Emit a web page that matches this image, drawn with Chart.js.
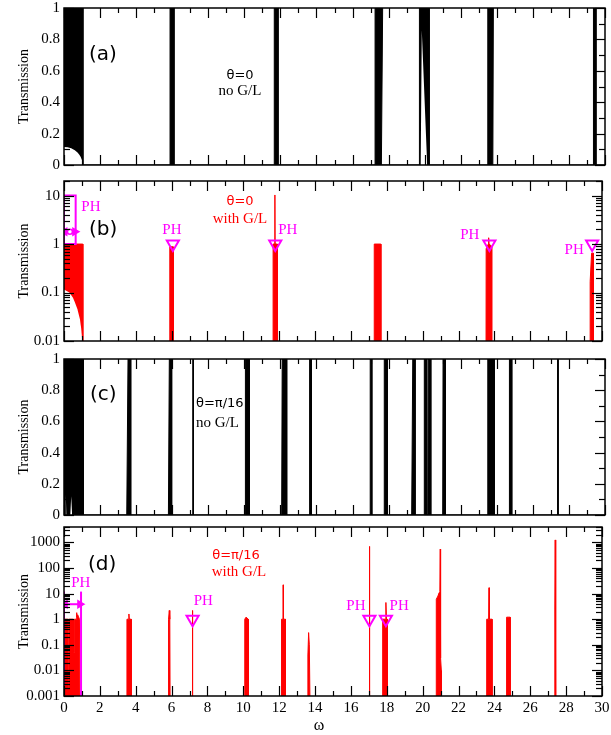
<!DOCTYPE html>
<html>
<head>
<meta charset="utf-8">
<title>Transmission vs omega</title>
<script src="https://cdn.jsdelivr.net/npm/chart.js@4.4.1/dist/chart.umd.min.js"></script>
<style>
  html, body { margin: 0; padding: 0; background: #fff; }
  #page { position: relative; width: 611px; height: 735px; overflow: hidden; }
  #page canvas { position: absolute; left: 0; }
  .txt { position: absolute; white-space: nowrap; line-height: 1; color: #000; }
  .sans { font-family: "DejaVu Sans", sans-serif; }
  .serif { font-family: "Liberation Serif", serif; }
  .red { color: #f00; }
  .c { transform: translate(-50%, -50%); }
  .l { transform: translateY(-50%); }
</style>
</head>
<body>
<div id="page">
  <canvas id="chartA" width="611" height="175" style="top:0px"></canvas>
  <canvas id="chartB" width="611" height="178" style="top:172px"></canvas>
  <canvas id="chartC" width="611" height="175" style="top:350px"></canvas>
  <canvas id="chartD" width="611" height="217" style="top:518px"></canvas>

  <div class="txt sans l" style="left:89px;top:53px;font-size:20px">(a)</div>
  <div class="txt sans c" style="left:240px;top:74px;font-size:13px">θ=0</div>
  <div class="txt serif c" style="left:240px;top:90px;font-size:15px">no G/L</div>

  <div class="txt sans l" style="left:89px;top:228px;font-size:20px">(b)</div>
  <div class="txt sans c red" style="left:240px;top:200px;font-size:13px">θ=0</div>
  <div class="txt serif c red" style="left:240px;top:218px;font-size:15px">with G/L</div>

  <div class="txt sans l" style="left:90px;top:393px;font-size:20px">(c)</div>
  <div class="txt sans l" style="left:196px;top:402px;font-size:13px">θ=π/16</div>
  <div class="txt serif l" style="left:196px;top:422px;font-size:15px">no G/L</div>

  <div class="txt sans l" style="left:88px;top:563px;font-size:20px">(d)</div>
  <div class="txt sans c red" style="left:236px;top:554px;font-size:13px">θ=π/16</div>
  <div class="txt serif c red" style="left:239px;top:571px;font-size:15px">with G/L</div>

  <div class="txt serif c" style="left:319px;top:725px;font-size:16px">ω</div>
</div>

<script>
// tick labels
const xTicks = [0, 2, 4, 6, 8, 10, 12, 14, 16, 18, 20, 22, 24, 26, 28, 30];
const linTicks = [0, 0.2, 0.4, 0.6, 0.8, 1];
const logTicksB = [0.01, 0.1, 1, 10];
const logTicksD = [0.001, 0.01, 0.1, 1, 10, 100, 1000];

// (a) theta=0, no G/L  -- [omega, T]
const traceA = [
  [0, 1], [1.05, 1], [1.05, 0],
  [5.88, 0], [5.88, 1], [6.1, 1], [6.1, 0],
  [11.66, 0], [11.66, 1], [11.87, 1], [11.87, 0],
  [17.25, 0], [17.25, 1], [17.67, 1], [17.6, 0],
  [19.71, 0], [19.71, 1], [20.25, 1], [20.25, 0],
  [23.5, 0], [23.5, 1], [23.81, 1], [23.78, 0],
  [29.36, 0], [29.36, 1], [29.5, 1], [29.5, 0],
  [30, 0]
];
const holeA = [
  [0, 0.115], [0.2, 0.113], [0.4, 0.106], [0.6, 0.094], [0.75, 0.079],
  [0.85, 0.065], [0.92, 0.052], [0.97, 0.039], [1.0, 0.028], [1.02, 0],
  [19.78, 0], [19.84, 0.86], [20.14, 0]
];

// (b) theta=0, with G/L  (values far below 0.01 sit under the axis)
const traceB = [
  [0, 1], [1.05, 1], [1.05, 0.001],
  [5.88, 0.001], [5.9, 0.88], [6.08, 0.88], [6.1, 0.001],
  [11.66, 0.001], [11.66, 1], [11.75, 1], [11.76, 10.3], [11.77, 1], [11.9, 1], [11.9, 0.001],
  [17.3, 0.001], [17.3, 1], [17.67, 1], [17.67, 0.001],
  [23.53, 0.001], [23.54, 0.8], [23.66, 1], [23.68, 1.35], [23.7, 1], [23.85, 0.9], [23.85, 0.001],
  [29.34, 0.001], [29.34, 0.17], [29.42, 0.65], [29.52, 0.65], [29.52, 0.001],
  [30, 0.001]
];
const holeB = [
  [0, 0.115], [0.3, 0.1], [0.5, 0.078], [0.61, 0.062], [0.75, 0.045],
  [0.89, 0.028], [0.96, 0.018], [1.02, 0.01]
];
const bracketB = [[0, 1], [0, 10], [0.65, 10], [0.65, 1], [0, 1]];
const arrowB = [[0.04, 1.8], [0.33, 1.8], [0.61, 1.8]];
const phMarkB = [[6.07, 1], [11.78, 1], [23.72, 1], [29.45, 1]];
const phTextB = [[6.02, 1.95], [12.48, 1.95], [22.63, 1.53], [28.45, 0.75], [1.5, 5.7]];

// (c) theta=pi/16, no G/L
const traceC = [
  [0, 1], [1.08, 1], [1.08, 0],
  [3.48, 0], [3.55, 1], [3.7, 1], [3.7, 0],
  [5.79, 0], [5.84, 1], [5.97, 1], [5.97, 0],
  [7.14, 0], [7.14, 1], [7.18, 1], [7.18, 0],
  [10.04, 0], [10.06, 1], [10.28, 1], [10.28, 0],
  [12.07, 0], [12.1, 1], [12.35, 1], [12.35, 0],
  [13.6, 0], [13.62, 1], [13.72, 1], [13.72, 0],
  [16.97, 0], [16.98, 1], [17.07, 1], [17.07, 0],
  [17.75, 0], [17.76, 1], [17.93, 1], [17.93, 0],
  [19.28, 0], [19.34, 1], [19.47, 1], [19.47, 0],
  [19.98, 0], [19.98, 1], [20.1, 1], [20.12, 0],
  [20.18, 0], [20.2, 1], [20.34, 1], [20.34, 0],
  [21.0, 0], [21.02, 1], [21.15, 1], [21.15, 0],
  [23.5, 0], [23.5, 1], [23.86, 1], [23.86, 0],
  [24.68, 0], [24.7, 1], [24.83, 1], [24.83, 0],
  [27.37, 0], [27.37, 1], [27.4, 1], [27.4, 0],
  [30, 0]
];
const holeC = [[0.06, 0], [0.1, 0.13], [0.13, 0], [0.35, 0], [0.4, 0.12], [0.45, 0]];

// (d) theta=pi/16, with G/L
const traceD = [
  [0, 0.0001], [0, 1], [0.22, 1], [0.23, 0.002], [0.26, 0.002], [0.27, 1],
  [0.52, 1], [0.53, 0.05], [0.57, 0.05], [0.58, 1], [0.68, 1], [0.7, 1.8], [0.72, 1.2],
  [0.76, 1.5], [0.8, 1.3], [0.86, 1], [0.9, 0.0001],
  [3.51, 0.0001], [3.51, 1], [3.6, 1], [3.62, 1.6], [3.64, 1], [3.75, 1], [3.75, 0.0001],
  [5.82, 0.0001], [5.83, 1], [5.87, 2.2], [5.9, 1], [5.92, 0.0001],
  [7.15, 0.0001], [7.16, 2.2], [7.18, 0.0001],
  [10.08, 0.0001], [10.08, 1], [10.15, 1.2], [10.28, 1], [10.28, 0.0001],
  [12.13, 0.0001], [12.13, 1], [12.21, 1], [12.22, 22], [12.24, 1], [12.35, 1], [12.35, 0.0001],
  [13.6, 0.0001], [13.6, 0.04], [13.64, 0.3], [13.68, 0.1], [13.73, 0.0001],
  [17.01, 0.0001], [17.03, 700], [17.05, 0.0001],
  [17.77, 0.0001], [17.77, 1], [17.92, 1], [17.95, 4.5], [17.98, 1], [18.03, 1], [18.03, 0.0001],
  [20.76, 0.0001], [20.76, 6], [20.85, 8], [20.92, 11], [20.96, 12], [20.98, 550], [21.0, 0.03], [21.04, 0.01], [21.04, 0.0001],
  [23.57, 0.0001], [23.57, 1], [23.68, 1], [23.7, 17], [23.72, 1], [23.87, 1], [23.87, 0.0001],
  [24.68, 0.0001], [24.68, 1.2], [24.88, 1.2], [24.88, 0.0001],
  [27.36, 0.0001], [27.37, 2.5], [27.39, 1250], [27.42, 0.0001],
  [30, 0.0001]
];
const bracketD0 = [[0, 0.001], [0, 12]];
const bracketD1 = [[0.95, 0.001], [0.95, 12]];
const arrowD = [[0.06, 3.85], [0.89, 3.85]];
const phMarkD = [[7.17, 1], [17.03, 1], [17.95, 1]];
const phTextD = [[7.77, 4.9], [16.28, 3.3], [18.69, 3.3], [0.94, 26]];

const MAGENTA = '#ff00ff';
const serif = 'Liberation Serif';

const toPts = arr => arr.map(p => ({ x: p[0], y: p[1] }));

// frame with inward ticks on all four sides, like the original plot
const framePlugin = {
  id: 'frame',
  afterDatasetsDraw(chart) {
    const { ctx, chartArea: a, scales: { x, y } } = chart;
    const line = (x1, y1, x2, y2) => {
      ctx.beginPath();
      ctx.moveTo(x1, y1);
      ctx.lineTo(x2, y2);
      ctx.stroke();
    };
    ctx.save();
    ctx.strokeStyle = '#000';
    ctx.lineWidth = 1.2;

    // x ticks: major every 2, minor every 1
    for (let v = 0; v <= 30; v++) {
      const px = Math.round(x.getPixelForValue(v)) + 0.5;
      const len = v % 2 === 0 ? 10 : 5;
      line(px, a.bottom, px, a.bottom - len);
      line(px, a.top, px, a.top + len);
    }

    // y ticks
    let major = [], minor = [];
    if (y.type === 'logarithmic') {
      let d = Math.pow(10, Math.floor(Math.log10(y.min)));
      while (d <= y.max) {
        if (d >= y.min) major.push(d);
        for (let k = 2; k <= 9; k++) {
          const v = d * k;
          if (v >= y.min && v <= y.max) minor.push(v);
        }
        d *= 10;
      }
    } else {
      for (let i = 0; i <= 10; i++) {
        (i % 2 === 0 ? major : minor).push(i / 10);
      }
    }
    major.forEach(v => {
      const py = Math.round(y.getPixelForValue(v)) + 0.5;
      line(a.left, py, a.left + 10, py);
      line(a.right, py, a.right - 10, py);
    });
    minor.forEach(v => {
      const py = Math.round(y.getPixelForValue(v)) + 0.5;
      line(a.left, py, a.left + 6, py);
      line(a.right, py, a.right - 6, py);
    });

    ctx.lineWidth = 1.5;
    ctx.strokeRect(a.left, a.top, a.right - a.left, a.bottom - a.top);
    ctx.restore();
  }
};

// "PH" labels placed in data coordinates
const phPlugin = {
  id: 'phText',
  afterDatasetsDraw(chart, args, opts) {
    if (!opts.items || !opts.items.length) return;
    const { ctx, scales: { x, y } } = chart;
    ctx.save();
    ctx.font = '15px "' + serif + '"';
    ctx.fillStyle = MAGENTA;
    ctx.textAlign = 'center';
    ctx.textBaseline = 'middle';
    opts.items.forEach(p => {
      ctx.fillText('PH', x.getPixelForValue(p[0]), y.getPixelForValue(p[1]));
    });
    ctx.restore();
  }
};

Chart.register(framePlugin, phPlugin);

function traceSet(data, color, order) {
  return {
    data: toPts(data), borderColor: color, backgroundColor: color,
    borderWidth: 1, fill: 'start', pointRadius: 0, order: order
  };
}
function holeSet(data) {
  return {
    data: toPts(data), borderColor: '#fff', backgroundColor: '#fff',
    borderWidth: 0, fill: 'start', pointRadius: 0, order: 2
  };
}
function lineSet(data) {
  return {
    data: toPts(data), borderColor: MAGENTA, borderWidth: 2,
    fill: false, pointRadius: 0, order: 1
  };
}
function arrowSet(data) {
  const n = data.length;
  const isEnd = i => i === 0 || i === n - 1;
  return {
    data: toPts(data), borderColor: MAGENTA, borderWidth: 2, fill: false, order: 1,
    pointStyle: data.map((p, i) => isEnd(i) ? 'triangle' : 'circle'),
    pointRotation: data.map((p, i) => i === 0 ? -90 : (i === n - 1 ? 90 : 0)),
    pointRadius: data.map((p, i) => isEnd(i) ? 4 : 2.5),
    pointBorderColor: MAGENTA,
    pointBackgroundColor: data.map((p, i) => isEnd(i) ? MAGENTA : '#fff'),
    pointBorderWidth: 1.5
  };
}
function markerSet(data) {
  return {
    data: toPts(data), showLine: false, order: 0,
    pointStyle: 'triangle', pointRotation: 180, pointRadius: 7,
    pointBorderColor: MAGENTA, pointBackgroundColor: 'rgba(0,0,0,0)', pointBorderWidth: 2
  };
}

function yScale(type, min, max, tickVals) {
  return {
    type: type, min: min, max: max,
    afterFit: s => { s.width = 64; s.paddingTop = 0; s.paddingBottom = 0; },
    afterBuildTicks: s => { s.ticks = tickVals.map(v => ({ value: v })); },
    grid: { display: false, drawTicks: false },
    border: { display: false },
    ticks: {
      padding: 4, color: '#000', autoSkip: false,
      font: { family: serif, size: 15 },
      callback: v => String(v)
    },
    title: {
      display: true, text: 'Transmission', color: '#000',
      font: { family: serif, size: 14 },
      padding: { top: 16, bottom: 0 }
    }
  };
}

function xScale(showLabels) {
  const s = {
    type: 'linear', min: 0, max: 30,
    grid: { display: false, drawTicks: false },
    border: { display: false }
  };
  if (!showLabels) {
    s.display = false;
    return s;
  }
  s.afterBuildTicks = sc => { sc.ticks = xTicks.map(v => ({ value: v })); };
  s.afterFit = sc => { sc.height = 39; sc.paddingLeft = 0; sc.paddingRight = 0; };
  s.ticks = {
    padding: 3, color: '#000', autoSkip: false, maxRotation: 0,
    font: { family: serif, size: 15 },
    callback: v => String(v)
  };
  return s;
}

function makeChart(id, datasets, padding, x, y, phItems) {
  return new Chart(document.getElementById(id), {
    type: 'line',
    data: { datasets: datasets },
    options: {
      responsive: false,
      animation: false,
      devicePixelRatio: 1,
      layout: { padding: padding },
      elements: { line: { tension: 0 } },
      plugins: {
        legend: { display: false },
        tooltip: { enabled: false },
        phText: { items: phItems || [] }
      },
      scales: { x: x, y: y }
    }
  });
}

makeChart('chartA',
  [traceSet(traceA, '#000', 3), holeSet(holeA)],
  { top: 8, bottom: 10, left: 0, right: 6 },
  xScale(false), yScale('linear', 0, 1, linTicks));

makeChart('chartB',
  [traceSet(traceB, '#ff0000', 3), holeSet(holeB), lineSet(bracketB), arrowSet(arrowB), markerSet(phMarkB)],
  { top: 8, bottom: 8, left: 0, right: 6 },
  xScale(false), yScale('logarithmic', 0.01, 20, logTicksB), phTextB);

makeChart('chartC',
  [traceSet(traceC, '#000', 3), holeSet(holeC)],
  { top: 9, bottom: 10, left: 0, right: 6 },
  xScale(false), yScale('linear', 0, 1, linTicks));

makeChart('chartD',
  [traceSet(traceD, '#ff0000', 3), lineSet(bracketD0), lineSet(bracketD1), arrowSet(arrowD), markerSet(phMarkD)],
  { top: 9, bottom: 0, left: 0, right: 6 },
  xScale(true), yScale('logarithmic', 0.001, 4000, logTicksD), phTextD);
</script>
</body>
</html>
